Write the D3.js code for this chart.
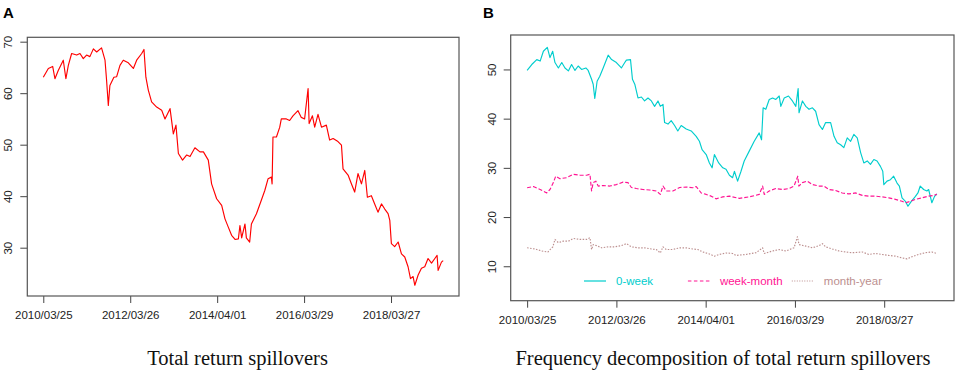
<!DOCTYPE html>
<html>
<head>
<meta charset="utf-8">
<script src="https://cdn.jsdelivr.net/npm/d3@7"></script>
<style>
  body { margin: 0; background: #fff; }
  svg { display: block; font-family: "Liberation Sans", Arial, sans-serif; }
</style>
</head>
<body>
<svg id="chart" width="957" height="372"></svg>
<script>
// x axis: observation index, labelled with dates
const tickIdx = [0, 500, 1000, 1500, 2000];
const tickLabels = ['2010/03/25', '2012/03/26', '2014/04/01', '2016/03/29', '2018/03/27'];

// Panel A - total return spillovers
const totalIdx = [0, 29, 54, 67, 86, 115, 130, 144, 163, 192, 211, 230, 249, 268, 288, 307, 335, 355, 364, 374,
  383, 406, 422, 441, 460, 489, 518, 537, 566, 579, 590, 604, 623, 652, 681, 700, 729, 748, 763, 777,
  801, 825, 844, 872, 901, 921, 949, 968, 997, 1026, 1045, 1064, 1083, 1103, 1122, 1131, 1141, 1160, 1168, 1187,
  1197, 1226, 1254, 1274, 1293, 1312, 1316, 1321, 1341, 1360, 1369, 1398, 1417, 1436, 1465, 1484, 1503, 1523, 1529, 1548,
  1561, 1580, 1600, 1628, 1647, 1667, 1695, 1715, 1724, 1753, 1772, 1791, 1810, 1830, 1849, 1864, 1887, 1906, 1925, 1945,
  1964, 1983, 1993, 2002, 2021, 2041, 2060, 2079, 2098, 2112, 2127, 2137, 2156, 2175, 2194, 2213, 2233, 2252, 2265, 2271,
  2290, 2300];
const totalVals = [63.1, 64.8, 65.2, 62.8, 64.4, 66.4, 62.8, 65.4, 67.7, 67.4, 67.7, 66.7, 67.4, 67.1, 68.6, 68.0, 68.8, 66.4, 62.5, 57.6,
  61.5, 63.1, 63.2, 65.4, 66.4, 65.9, 64.8, 66.4, 67.7, 68.5, 63.1, 60.6, 58.3, 57.3, 56.7, 55.0, 57.0, 52.1, 53.8, 48.3,
  47.0, 48.0, 47.7, 49.4, 48.6, 48.6, 47.0, 42.4, 39.5, 38.2, 35.6, 34.0, 32.4, 31.6, 31.7, 34.3, 31.9, 34.6, 31.9, 31.1,
  34.6, 36.6, 39.2, 41.1, 43.4, 43.7, 42.4, 51.5, 51.5, 53.4, 55.0, 55.0, 54.7, 55.6, 56.6, 55.3, 55.0, 60.9, 54.1, 55.6,
  53.4, 55.9, 53.4, 53.8, 50.9, 51.2, 50.6, 49.9, 45.3, 44.1, 42.4, 40.8, 44.4, 42.4, 45.0, 39.8, 40.1, 38.5, 36.9, 38.5,
  37.5, 36.6, 35.3, 30.8, 30.2, 31.1, 28.8, 28.2, 26.3, 24.0, 24.4, 22.7, 24.7, 26.0, 26.3, 27.9, 27.0, 27.9, 28.5, 25.6,
  27.2, 27.5];

// Panel B - frequency decomposition
const weekIdx = [0, 26, 54, 73, 91, 113, 128, 143, 156, 175, 194, 212, 231, 249, 268, 286, 305, 329, 342, 361,
  370, 379, 392, 407, 426, 454, 473, 500, 528, 547, 556, 579, 590, 603, 621, 640, 658, 677, 696, 714,
  733, 746, 761, 770, 789, 807, 826, 844, 863, 891, 919, 947, 965, 980, 1003, 1021, 1036, 1049, 1073, 1096,
  1114, 1133, 1151, 1161, 1179, 1198, 1216, 1244, 1272, 1300, 1313, 1322, 1337, 1356, 1375, 1393, 1412, 1421, 1440, 1464,
  1486, 1505, 1518, 1523, 1542, 1561, 1579, 1598, 1616, 1635, 1654, 1672, 1700, 1719, 1737, 1756, 1774, 1793, 1812, 1830,
  1849, 1868, 1886, 1905, 1923, 1942, 1960, 1979, 1992, 1998, 2016, 2035, 2053, 2072, 2085, 2100, 2119, 2133, 2152, 2175,
  2189, 2202, 2221, 2239, 2249, 2267, 2282, 2295];
const weekVals = [49.8, 51.0, 52.0, 51.7, 53.7, 54.5, 52.4, 53.7, 51.4, 50.3, 51.4, 50.3, 49.7, 51.0, 49.8, 50.7, 50.0, 50.3, 49.8, 48.0,
  47.0, 44.1, 47.6, 48.6, 50.3, 52.9, 52.0, 51.4, 50.3, 51.4, 51.9, 52.0, 48.0, 47.0, 44.2, 44.4, 43.6, 44.2, 43.6, 42.5,
  43.6, 42.5, 42.9, 39.2, 38.9, 39.6, 38.6, 37.5, 38.6, 37.9, 37.5, 36.4, 35.4, 33.7, 32.7, 31.0, 30.0, 32.7, 31.0, 30.0,
  29.7, 28.5, 28.0, 29.3, 27.3, 29.3, 31.4, 33.4, 35.4, 37.1, 35.7, 42.2, 41.9, 43.9, 44.2, 43.9, 44.6, 42.5, 44.2, 44.6,
  43.6, 42.5, 46.1, 41.2, 43.6, 42.5, 41.9, 42.2, 41.5, 38.8, 37.8, 39.2, 39.2, 36.4, 35.1, 34.7, 34.1, 36.1, 35.4, 36.8,
  36.1, 33.1, 31.0, 31.4, 30.7, 31.7, 31.4, 30.3, 29.3, 26.6, 27.3, 27.6, 28.3, 26.9, 26.3, 23.9, 23.2, 22.2, 23.2, 24.2,
  24.9, 26.3, 25.6, 25.3, 25.6, 22.9, 24.2, 24.7];

const monthIdx = [0, 35, 73, 110, 128, 147, 160, 184, 221, 258, 296, 333, 352, 361, 370, 385, 398, 426, 463, 500,
  537, 565, 584, 612, 649, 686, 724, 746, 761, 779, 816, 854, 891, 928, 947, 975, 1003, 1031, 1058, 1096,
  1133, 1189, 1244, 1300, 1319, 1328, 1356, 1393, 1430, 1468, 1495, 1516, 1522, 1542, 1570, 1598, 1635, 1663, 1691, 1728,
  1765, 1802, 1840, 1877, 1914, 1951, 1988, 2026, 2063, 2100, 2119, 2147, 2175, 2212, 2249, 2277, 2295];
const monthVals = [25.95, 26.2, 25.6, 24.9, 25.6, 27.0, 28.3, 27.8, 28.0, 28.7, 28.5, 28.5, 28.7, 25.3, 27.0, 27.3, 26.3, 26.4, 26.3, 26.6,
  27.1, 27.0, 26.0, 25.8, 25.6, 25.5, 25.3, 24.6, 26.3, 25.3, 25.3, 26.0, 26.1, 25.95, 26.2, 24.9, 24.6, 24.25, 23.7, 24.1,
  24.25, 23.8, 24.1, 24.6, 26.3, 24.6, 25.3, 25.8, 25.6, 25.8, 26.3, 28.3, 26.3, 27.0, 27.3, 26.6, 26.3, 26.3, 25.6, 25.4,
  24.9, 24.7, 24.9, 24.4, 24.25, 24.25, 24.1, 23.9, 23.6, 23.2, 22.9, 23.2, 23.6, 23.9, 24.25, 24.4, 24.6];

const yearIdx = [0, 45, 82, 116, 144, 156, 175, 203, 231, 258, 296, 333, 352, 361, 370, 389, 417, 454, 491, 528,
  556, 584, 621, 658, 696, 724, 746, 761, 779, 816, 854, 891, 928, 956, 984, 1021, 1049, 1077, 1114, 1151,
  1170, 1226, 1282, 1319, 1328, 1375, 1412, 1449, 1495, 1514, 1523, 1561, 1598, 1635, 1654, 1672, 1710, 1747, 1784, 1821,
  1877, 1914, 1951, 1988, 2026, 2063, 2100, 2128, 2156, 2193, 2230, 2267, 2295];
const yearVals = [13.75, 13.5, 13.1, 12.9, 13.95, 15.45, 14.8, 15.1, 15.1, 15.65, 15.45, 15.45, 15.8, 13.4, 14.4, 14.2, 13.75, 13.95, 13.95, 14.2,
  14.6, 13.95, 13.75, 13.75, 13.5, 13.4, 12.7, 13.95, 13.4, 13.4, 13.75, 13.75, 13.5, 13.4, 12.9, 12.5, 12.05, 12.4, 12.7, 12.6,
  12.2, 12.4, 12.75, 13.75, 12.6, 13.1, 13.4, 13.1, 13.75, 16.0, 14.4, 14.1, 13.75, 14.2, 14.6, 13.95, 13.5, 13.1, 12.9, 12.75,
  12.9, 12.4, 12.6, 12.4, 12.2, 12.05, 11.7, 11.5, 11.95, 12.4, 12.75, 12.9, 12.6];

const legendNames = ['0-week', 'week-month', 'month-year'];

const svg = d3.select('#chart');
svg.append('rect').attr('width', 957).attr('height', 372).attr('fill', '#fff');

function zip(idx, vals) {
  return idx.map((d, i) => ({ i: d, v: vals[i] }));
}

function drawPanel(cfg) {
  const x = d3.scaleLinear().domain([-92, 2391]).range([cfg.left, cfg.right]);
  const y = d3.scaleLinear().domain(cfg.yDomain).range([cfg.bottom, cfg.top]);

  // x axis
  const xAxis = svg.append('g')
    .attr('transform', `translate(0,${cfg.bottom})`)
    .call(d3.axisBottom(x).tickValues(tickIdx).tickFormat((d, i) => tickLabels[i]).tickSize(7).tickPadding(8));
  xAxis.select('.domain').remove();
  xAxis.selectAll('line').attr('stroke', '#444');
  xAxis.selectAll('text')
    .attr('font-family', '"Liberation Sans", Arial, sans-serif')
    .attr('font-size', 11.5)
    .attr('fill', '#222');

  // y axis, labels turned like R does
  const yAxis = svg.append('g')
    .attr('transform', `translate(${cfg.left},0)`)
    .call(d3.axisLeft(y).tickValues(cfg.yTicks).tickSize(7));
  yAxis.select('.domain').remove();
  yAxis.selectAll('line').attr('stroke', '#444');
  yAxis.selectAll('text')
    .attr('x', 0)
    .attr('dy', 0)
    .attr('text-anchor', 'middle')
    .attr('transform', 'translate(-15,0) rotate(-90)')
    .attr('font-family', '"Liberation Sans", Arial, sans-serif')
    .attr('font-size', 11.5)
    .attr('fill', '#222');

  // series
  const line = d3.line().x(d => x(d.i)).y(d => y(d.v));
  cfg.series.forEach(s => {
    svg.append('path')
      .datum(s.data)
      .attr('fill', 'none')
      .attr('stroke', s.color)
      .attr('stroke-width', 1.15)
      .attr('stroke-dasharray', s.dash || null)
      .attr('stroke-linejoin', 'round')
      .attr('d', line);
  });

  // frame
  svg.append('rect')
    .attr('x', cfg.left)
    .attr('y', cfg.top)
    .attr('width', cfg.right - cfg.left)
    .attr('height', cfg.bottom - cfg.top)
    .attr('fill', 'none')
    .attr('stroke', '#555')
    .attr('stroke-width', 1.2);

  // panel letter
  svg.append('text')
    .attr('x', cfg.letterX)
    .attr('y', 18)
    .attr('font-family', '"Liberation Sans", Arial, sans-serif')
    .attr('font-weight', 'bold')
    .attr('font-size', 15)
    .text(cfg.letter);

  // caption under the panel
  svg.append('text')
    .attr('x', cfg.titleX)
    .attr('y', 365)
    .attr('text-anchor', 'middle')
    .attr('font-family', '"Liberation Serif", "Times New Roman", serif')
    .attr('font-size', 20.5)
    .attr('fill', '#111')
    .text(cfg.title);

  return { x, y };
}

drawPanel({
  left: 27.3, right: 459, top: 37.3, bottom: 296,
  yDomain: [20.62, 70.85], yTicks: [30, 40, 50, 60, 70],
  letter: 'A', letterX: 3, titleX: 237.5,
  title: 'Total return spillovers',
  series: [{ data: zip(totalIdx, totalVals), color: '#ff0000' }]
});

const seriesB = [
  { data: zip(weekIdx, weekVals), color: '#00cdcd' },
  { data: zip(monthIdx, monthVals), color: '#ff1493', dash: '4,2' },
  { data: zip(yearIdx, yearVals), color: '#bc8f8f', dash: '1.5,1.5' }
];

drawPanel({
  left: 510.7, right: 954, top: 35, bottom: 300.7,
  yDomain: [3, 57], yTicks: [10, 20, 30, 40, 50],
  letter: 'B', letterX: 483, titleX: 723,
  title: 'Frequency decomposition of total return spillovers',
  series: seriesB
});

// legend inside panel B
const legendDash = [null, '3.5,2.5', '1,1.5'];
const legend = svg.append('g').attr('transform', 'translate(584,281)');
legendNames.forEach((name, i) => {
  const g = legend.append('g').attr('transform', `translate(${i * 103.9},0)`);
  g.append('line')
    .attr('x1', 0).attr('x2', 22)
    .attr('stroke', seriesB[i].color)
    .attr('stroke-width', 1.2)
    .attr('stroke-dasharray', legendDash[i]);
  g.append('text')
    .attr('x', 32)
    .attr('dy', '0.36em')
    .attr('font-size', 11.5)
    .attr('fill', seriesB[i].color)
    .text(name);
});
</script>
</body>
</html>
